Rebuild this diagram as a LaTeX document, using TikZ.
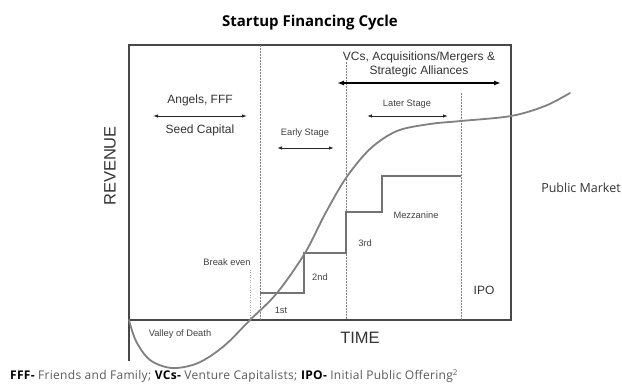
\documentclass[tikz,border=0pt]{standalone}
\usepackage{fontspec}
\setmainfont{Liberation Sans}
\newfontfamily\headfont{Open Sans}
\newfontfamily\notefont[LetterSpace=2.5]{Open Sans}
\usetikzlibrary{arrows.meta}
\begin{document}
\begin{tikzpicture}[x=1pt,y=-1pt,
  frame/.style={draw=black!72, line width=1.1pt},
  phase/.style={draw=black!50, line width=0.8pt, dash pattern=on 1.6pt off 1.4pt},
  evenline/.style={draw=black!35, line width=0.8pt, dash pattern=on 1pt off 1.5pt},
  stair/.style={draw=black!55, line width=1.1pt},
  growth/.style={draw=black!50, line width=1.8pt, line cap=round},
  span/.style={draw=black!85, line width=0.9pt, {Latex[length=5pt,width=3.5pt]}-{Latex[length=5pt,width=3.5pt]}},
  bigspan/.style={draw=black, line width=1.4pt, {Latex[length=7pt,width=5pt]}-{Latex[length=7pt,width=5pt]}},
  big/.style={font=\fontsize{12}{14}\selectfont, text=black!80, inner sep=0pt},
  small/.style={font=\fontsize{9.3}{11}\selectfont, text=black!75, inner sep=0pt},
  axislabel/.style={font=\fontsize{16.5}{18}\selectfont, text=black!80, inner sep=0pt}]
\useasboundingbox (0,0) rectangle (622,387);

% title
\node[inner sep=0pt, font=\headfont\bfseries\fontsize{15}{17}\selectfont] (title) at (310,23) {Startup Financing Cycle};

% frame and axes
\coordinate (tl) at (129,45);
\coordinate (tr) at (511,45);
\coordinate (br) at (511,320);
\coordinate (bl) at (129,320);
\coordinate (lowaxis) at (129,361);
\draw[frame] (lowaxis) -- (tl) -- (tr) -- (br) -- (bl);

% stage boundaries
\coordinate (d1t) at (260,45);  \coordinate (d1b) at (260,320);
\coordinate (d2t) at (346,62);  \coordinate (d2b) at (346,320);
\coordinate (d3t) at (461,93);  \coordinate (d3b) at (461,320);
\draw[phase] (d1t) -- (d1b);
\draw[phase] (d2t) -- (d2b);
\draw[phase] (d3t) -- (d3b);
\coordinate (bet) at (250,270); \coordinate (beb) at (250,320);
\draw[evenline] (bet) -- (beb);

% financing rounds
\coordinate (s0) at (260,293);
\draw[stair] (s0) -- (304,293) -- (304,253) -- (346,253) -- (346,212)
  -- (382,212) -- (382,176) -- (461,176);

% revenue curve
\draw[growth] plot[smooth, tension=0.55] coordinates {
  (129,320) (136,341) (150,360) (172,368) (198,363) (224,346) (250,320)
  (277,293) (305,253) (325,214) (346,178) (370,149) (397,131)
  (430,124) (461,121) (511,116) (545,106) (570,93)};

% range arrows
\coordinate (a1l) at (153,116); \coordinate (a1r) at (247,116);
\draw[span] (a1l) -- (a1r);
\coordinate (a2l) at (277,148); \coordinate (a2r) at (334,148);
\draw[span] (a2l) -- (a2r);
\coordinate (a3l) at (367,116); \coordinate (a3r) at (448,116);
\draw[span] (a3l) -- (a3r);
\coordinate (a4l) at (337,83); \coordinate (a4r) at (501,83);
\draw[bigspan] (a4l) -- (a4r);

% labels
\node[big] (angels) at (200,100) {Angels, FFF};
\node[big] (seed) at (200,130) {Seed Capital};
\node[big] (vcs1) at (419,57) {VCs, Acquisitions/Mergers \&};
\node[big] (vcs2) at (419,71) {Strategic Alliances};
\node[small] (early) at (305,133) {Early Stage};
\node[small] (later) at (407,104) {Later Stage};
\node[small] (breakeven) at (227,262) {Break even};
\node[small] (valley) at (180,334) {Valley of Death};
\node[small] (r1) at (281,310) {1st};
\node[small] (r2) at (320,277) {2nd};
\node[small] (r3) at (365,243) {3rd};
\node[small] (mezz) at (416,215) {Mezzanine};
\node[big] (ipo) at (484,290) {IPO};
\node[inner sep=0pt, font=\headfont\fontsize{12.5}{14}\selectfont, text=black!80] (public) at (581,188) {Public Market};
\node[axislabel] (time) at (360,338) {TIME};
\node[axislabel, rotate=90] (revenue) at (110,166) {REVENUE};

% footnote
\node[anchor=base west, inner sep=0pt, font=\notefont\fontsize{12}{14}\selectfont, text=black!65] (foot) at (10,380)
  {\textbf{\color{black}FFF-} Friends and Family; \textbf{\color{black}VCs-} Venture Capitalists; \textbf{\color{black}IPO-} Initial Public Offering\textsuperscript{2}};
\end{tikzpicture}
\end{document}
